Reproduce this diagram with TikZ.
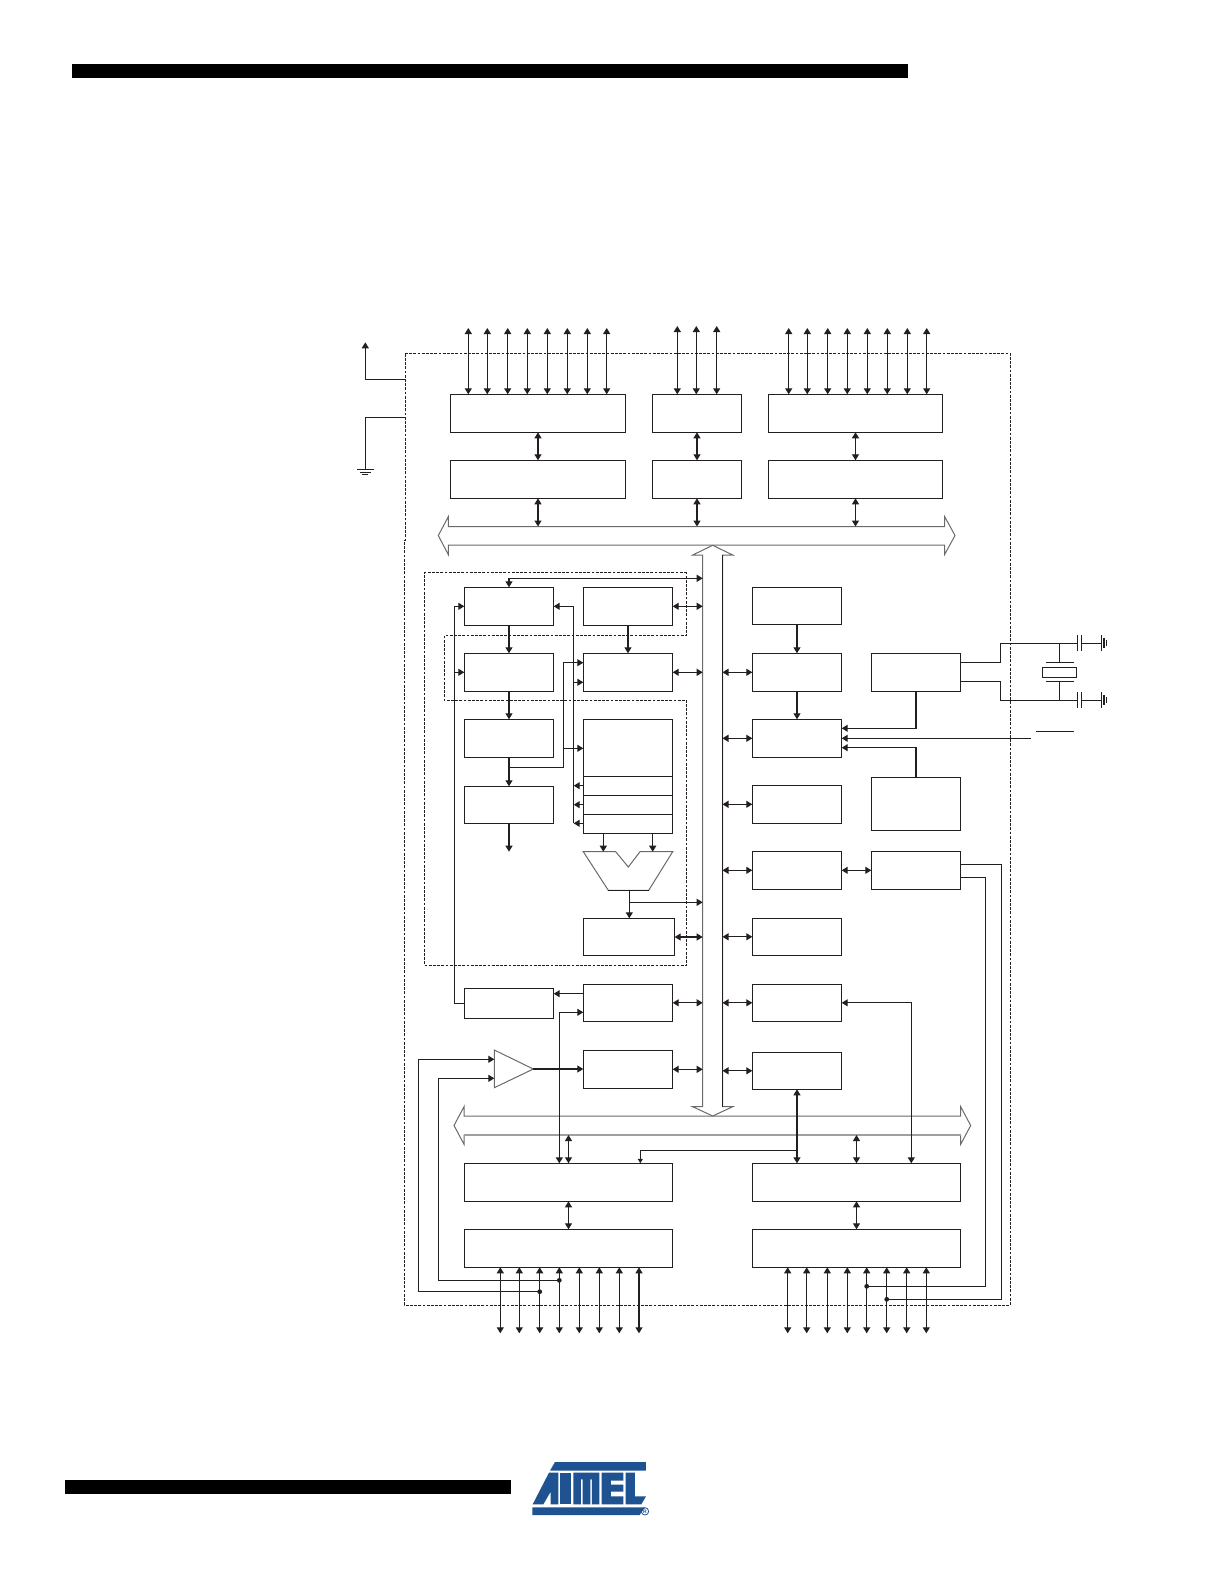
\documentclass[tikz,border=0pt]{standalone}
\usepackage{fontspec}
\setmainfont{Liberation Sans}
\usetikzlibrary{arrows.meta}
\definecolor{ink}{HTML}{231F20}
\definecolor{busgray}{HTML}{6A6A6A}
\definecolor{buslight}{HTML}{A0A0A0}
\definecolor{atmel}{HTML}{1F5290}
\tikzset{
  boxn/.style={draw=ink,line width=1.2pt,fill=white,inner sep=0pt,outer sep=0pt,rectangle},
  wire/.style={draw=ink,line width=1.15pt},
  one/.style={wire,-{Triangle[length=6pt,width=7pt]}},
  both/.style={wire,{Triangle[length=6pt,width=7pt]}-{Triangle[length=6pt,width=7pt]}},
  tiny/.style={wire,-{Triangle[length=4.5pt,width=5pt]}},
  dashbox/.style={draw=ink,line width=1pt,dash pattern=on 2.8pt off 1.4pt},
  bus/.style={draw=busgray,line width=1pt,fill=white,line join=miter},
  logo/.style={fill=atmel,draw=none},
}
\newcommand{\bx}[5]{%
  \pgfmathsetmacro\cxx{(#2+#4)/2}\pgfmathsetmacro\cyy{(#3+#5)/2}%
  \pgfmathsetmacro\wxx{#4-#2}\pgfmathsetmacro\hxx{#5-#3}%
  \node[boxn,minimum width=\wxx pt,minimum height=\hxx pt] (#1) at (\cxx,\cyy) {};}
\begin{document}
\begin{tikzpicture}[x=1pt,y=-1pt]
\fill[white] (0,0) rectangle (1225,1585);
\useasboundingbox (0,0) rectangle (1225,1585);

% page bars
\fill[black] (72,64) rectangle (908,78);
\fill[black] (65,1480) rectangle (511,1494);

% dashed frames
\draw[dashbox] (405,353.3) -- (1010.3,353.3) -- (1010.3,1305) -- (404.3,1305) -- (404.3,540) -- (405,540) -- cycle;
\draw[dashbox] (686.7,572.7) -- (424.3,572.7) -- (424.3,965.3) -- (686.7,965.3) -- (686.7,700.3) -- (444.3,700.3) -- (444.3,635.3) -- (686.7,635.3) -- cycle;

% buses
\draw[bus] (438.3,535.5) -- (448.3,516.7) -- (448.3,526.5) -- (944.7,526.5) -- (944.7,516.7) -- (955,535.5) -- (944.7,554.3) -- (944.7,545.2) -- (448.3,545.2) -- (448.3,554.6) -- cycle;
\draw[bus] (454,1125.5) -- (464,1106.7) -- (464,1116) -- (960.7,1116) -- (960.7,1106.7) -- (970.7,1125.5) -- (960.7,1144.2) -- (960.7,1135) -- (464,1135) -- (464,1144.2) -- cycle;
\draw[buslight,line width=1.6pt] (464,1135) -- (960.7,1135);
\draw[bus] (712.7,545.3) -- (732.7,555) -- (722.5,555) -- (722.5,1106.7) -- (732.7,1106.7) -- (712.7,1116) -- (692.7,1106.7) -- (702.7,1106.7) -- (702.7,555) -- (692.7,555) -- cycle;
\draw[ink,line width=1.15pt] (722.5,555) -- (722.5,1106.7);
\coordinate (vbL) at (702.7,0);
\coordinate (vbR) at (722.5,0);
\coordinate (ubT) at (0,526.5);
\coordinate (lbB) at (0,1135);

% boxes
\bx{A1}{450.3}{394.3}{625.7}{432.3}
\bx{A2}{450.3}{460.3}{625.7}{498.3}
\bx{B1}{652.3}{394.3}{741.7}{432.3}
\bx{B2}{652.3}{460.3}{741.7}{498.3}
\bx{C1}{768.3}{394.3}{942.7}{432.3}
\bx{C2}{768.3}{460.3}{942.7}{498.3}
\bx{D1}{464.3}{587.3}{553.7}{625.3}
\bx{D2}{583.3}{587.3}{672.7}{625.3}
\bx{E1}{464.3}{653.3}{553.7}{691.3}
\bx{E2}{583.3}{653.3}{672.7}{691.3}
\bx{F1}{464.3}{719.3}{553.7}{757.3}
\bx{G1}{464.3}{786.3}{553.7}{823.3}
\bx{R}{583.3}{719.3}{672.7}{833.3}
\draw[ink,line width=1.15pt] (583.3,776.3) -- (672.7,776.3) (583.3,795.3) -- (672.7,795.3) (583.3,814.3) -- (672.7,814.3);
\bx{H}{583.3}{918.3}{674.7}{955.7}
\bx{I}{464.3}{988.3}{553.7}{1018.3}
\bx{N}{583.3}{984.3}{672.7}{1021.3}
\bx{O}{583.3}{1050.3}{672.7}{1088.3}
\bx{J0}{752.3}{587.3}{841.7}{624.3}
\bx{J1}{752.3}{653.3}{841.7}{691.3}
\bx{J2}{752.3}{719.3}{841.7}{757.3}
\bx{J3}{752.3}{785.3}{841.7}{823.3}
\bx{J4}{752.3}{851.3}{841.7}{889.3}
\bx{J5}{752.3}{918.3}{841.7}{955.3}
\bx{L1}{752.3}{984.3}{841.7}{1021.3}
\bx{L2}{752.3}{1052.3}{841.7}{1089.3}
\bx{K1}{871.3}{653.3}{960.7}{691.3}
\bx{K2}{871.3}{777.3}{960.7}{830.3}
\bx{K3}{871.3}{851.3}{960.7}{889.3}
\bx{P1}{464.3}{1163.3}{672.7}{1201.3}
\bx{P2}{464.3}{1229.3}{672.7}{1267.3}
\bx{M1}{752.3}{1163.3}{960.7}{1201.3}
\bx{M2}{752.3}{1229.3}{960.7}{1267.3}

% ALU and comparator
\draw[draw=busgray,line width=1pt,fill=white] (583.3,851.7) -- (615.7,851.7) -- (628.3,867) -- (640,851.7) -- (672.7,851.7) -- (648.7,890.3) -- (608.3,890.3) -- cycle;
\draw[draw=busgray,line width=1pt,fill=white] (494.3,1050) -- (533.3,1069) -- (494.3,1087.7) -- cycle;
\draw[ink,line width=1.15pt] (608.3,890.3) -- (648.7,890.3);
\coordinate (aluB) at (629.3,890.3);
\coordinate (cmpO) at (533.3,1069);
\coordinate (cmpA) at (494.3,1059.3);
\coordinate (cmpB) at (494.3,1078.3);

% pins, top
\foreach \x [count=\i] in {468.3,487.3,507.7,527.3,547.3,567.3,587.3,606.7}{
  \coordinate (ta\i) at (\x,328);
  \draw[both] (ta\i) -- (ta\i |- A1.north);}
\foreach \x [count=\i] in {677.3,696.3,716.7}{
  \coordinate (tb\i) at (\x,326);
  \draw[both] (tb\i) -- (tb\i |- B1.north);}
\foreach \x [count=\i] in {788.7,807.3,827.7,847.3,867.3,887.3,907.3,926.7}{
  \coordinate (tc\i) at (\x,328);
  \draw[both] (tc\i) -- (tc\i |- C1.north);}
\draw[both] (A1.south) -- (A2.north);
\draw[both] (B1.south) -- (B2.north);
\draw[both] (C1.south) -- (C2.north);
\draw[both] (A2.south) -- (A2.south |- ubT);
\draw[both] (B2.south) -- (B2.south |- ubT);
\draw[both] (C2.south) -- (C2.south |- ubT);

% power
\coordinate (vccT) at (365.3,342.3);
\coordinate (vccF) at (405,379.3);
\coordinate (gndF) at (405,417.3);
\coordinate (gndT) at (365.3,469.3);
\draw[one] (vccF) -| (vccT);
\draw[wire] (gndF) -| (gndT);
\draw[wire] (357,469.3) -- (374,469.3) (359.5,472.3) -- (370.7,472.3) (362,474.9) -- (368,474.9);

% CPU core, left
\draw[both] (D1.north) |- (vbL |- 0,578.3);
\draw[one] (D1.south) -- (E1.north);
\draw[one] (E1.south) -- (F1.north);
\draw[one] (F1.south) -- (G1.north);
\coordinate (gOut) at (509,851.7);
\draw[one] (G1.south) -- (gOut);
\draw[one] (D2.south) -- (E2.north);
\draw[both] (D2.east) -- (vbL |- D2.east);
\draw[both] (E2.east) -- (vbL |- E2.east);
\draw[both] (H.east) -- (vbL |- H.east);
\coordinate (railL) at (454.3,0);
\coordinate (railR) at (573.7,0);
\coordinate (railF) at (563.7,0);
\draw[one] (I.west) -- (railL |- I.west) -- (railL |- D1.west) -- (D1.west);
\draw[one] (railL |- E1.west) -- (E1.west);
\draw[one] (railR |- 0,823.3) -- (railR |- D1.east) -- (D1.east);
\draw[one] (railR |- 0,682.3) -- (E2.west |- 0,682.3);
\draw[one] (R.west |- 0,785.7) -- (railR |- 0,785.7);
\draw[one] (R.west |- 0,804.7) -- (railR |- 0,804.7);
\draw[one] (R.west |- 0,823.3) -- (railR |- 0,823.3);
\draw[one] (F1.south |- 0,767.3) -- (railF |- 0,767.3) -- (railF |- 0,662.7) -- (E2.west |- 0,662.7);
\draw[one] (railF |- 0,748.3) -- (R.west |- 0,748.3);
\coordinate (regA) at (603.3,851.7);
\coordinate (regB) at (652.7,851.7);
\draw[one] (regA |- R.south) -- (regA);
\draw[one] (regB |- R.south) -- (regB);
\draw[one] (aluB) -- (aluB |- H.north);
\draw[one] (aluB |- 0,902.3) -- (vbL |- 0,902.3);

% right of the bus
\draw[one] (J0.south) -- (J1.north);
\draw[one] (J1.south) -- (J2.north);
\foreach \n in {J1,J2,J3,J4,J5,L1,L2}{\draw[both] (vbR |- \n.west) -- (\n.west);}
\draw[both] (J4.east) -- (K3.west);
\draw[one] (K1.south) |- (J2.east |- 0,728.3);
\coordinate (rst) at (1031,738.3);
\draw[one] (rst) -- (J2.east |- rst);
\draw[wire] (1036,731.3) -- (1074,731.3);
\draw[one] (K2.north) |- (J2.east |- 0,747.7);

% crystal
\coordinate (xA) at (1000.3,643.3);
\coordinate (xB) at (1000.3,700.3);
\coordinate (capA) at (1077.3,643.3);
\coordinate (capB) at (1077.3,700.3);
\coordinate (xm) at (1059.3,0);
\draw[wire] (K1.east |- 0,662.3) -| (xA) -- (capA);
\draw[wire] (K1.east |- 0,681.3) -| (xB) -- (capB);
\draw[wire] (xm |- capA) -- (xm |- 0,662.3);
\draw[wire] (xm |- capB) -- (xm |- 0,681.3);
\draw[wire] (1046,662.3) -- (1074,662.3) (1046,681.3) -- (1074,681.3);
\draw[wire] (1042.3,667.3) rectangle (1076.7,677.7);
\foreach \y in {643.3,700.3}{
  \draw[wire] (1077.3,\y-8) -- (1077.3,\y+8) (1081.7,\y-8) -- (1081.7,\y+8) (1081.7,\y) -- (1101.7,\y);
  \draw[wire] (1101.7,\y-8) -- (1101.7,\y+8) (1104,\y-5) -- (1104,\y+5) (1106.3,\y-3) -- (1106.3,\y+3);
}

% comparator and timer wiring
\draw[one] (N.west |- 0,993.7) -- (I.east |- 0,993.7);
\draw[both] (N.east) -- (vbL |- N.east);
\draw[both] (O.east) -- (vbL |- O.east);
\draw[one] (cmpO) -- (O.west |- cmpO);
\coordinate (pB) at (559.3,1012.3);
\draw[both] (N.west |- pB) -- (pB) -- (pB |- P1.north);
\draw[both] (P1.north) -- (P1.north |- lbB);
\draw[both] (P1.south) -- (P2.north);
\draw[both] (M1.north) -- (M1.north |- lbB);
\draw[both] (M1.south) -- (M2.north);

% lower pins
\foreach \x [count=\i] in {500.3,519.3,539.7,559.3,579.3,599.3,619.3,639}{
  \coordinate (bp\i) at (\x,1333.3);
  \draw[both] (bp\i) -- (bp\i |- P2.south);}
\foreach \x [count=\i] in {787.7,806.7,827.3,847.3,866.7,886.7,906.7,926.3}{
  \coordinate (bm\i) at (\x,1333.3);
  \draw[both] (bm\i) -- (bm\i |- M2.south);}

% analog inputs
\coordinate (dotA) at (539.7,1291.7);
\coordinate (dotB) at (559.3,1280.3);
\fill[ink] (dotA) circle (2.4pt) (dotB) circle (2.4pt);
\draw[one] (dotA) -- (418.3,1291.7) -- (418.3,1059.3) -- (cmpA);
\draw[one] (dotB) -- (438.3,1280.3) -- (438.3,1078.3) -- (cmpB);

% crossing wires from L1, L2, K3
\draw[both] (L1.east) -- (911.3,1002.8) -- (911.3,1163.3);
\draw[both] (L2.south) -- (L2.south |- M1.north);
\coordinate (brT) at (640.3,1163.3);
\draw[tiny] (L2.south |- 0,1150.3) -| (brT);
\coordinate (dotC) at (866.7,1286.3);
\coordinate (dotD) at (886.7,1299.3);
\fill[ink] (dotC) circle (2.4pt) (dotD) circle (2.4pt);
\draw[wire] (K3.east |- 0,864.3) -- (1001.7,864.3) -- (1001.7,1299.3) -- (dotD);
\draw[wire] (K3.east |- 0,877.3) -- (985.7,877.3) -- (985.7,1286.3) -- (dotC);

% logo
\begin{scope}[shift={(510,1450)},x=0.3333pt,y=-0.3333pt]
  \fill[logo] (135,36) -- (408,36) -- (408,62) -- (120,62) -- cycle;
  \fill[logo] (117,68) -- (145,68) -- (145,163) -- (122,163) -- (122,125) -- (100,163) -- (68,163) -- cycle;
  \fill[logo] (151,68) -- (182,68) -- (182,163) -- (151,163) -- cycle;
  \fill[logo] (190,68) -- (268,68) -- (268,163) -- (246,163) -- (246,88) -- (241,88) -- (241,163) -- (218,163) -- (218,88) -- (213,88) -- (213,163) -- (190,163) -- cycle;
  \fill[logo] (275,68) -- (340,68) -- (340,92) -- (303,92) -- (303,104) -- (340,104) -- (340,125) -- (303,125) -- (303,139) -- (340,139) -- (340,163) -- (275,163) -- cycle;
  \fill[logo] (347,68) -- (375,68) -- (375,139) -- (408,139) -- (394,163) -- (347,163) -- cycle;
  \fill[logo] (67,172) -- (405,172) -- (389,195) -- (67,195) -- cycle;
  \draw[atmel,line width=0.8pt] (405,184) circle (11);
  \node[text=atmel,font=\fontsize{5}{5}\selectfont\bfseries,inner sep=0pt] (reg) at (405,184) {R};
\end{scope}
\end{tikzpicture}
\end{document}
